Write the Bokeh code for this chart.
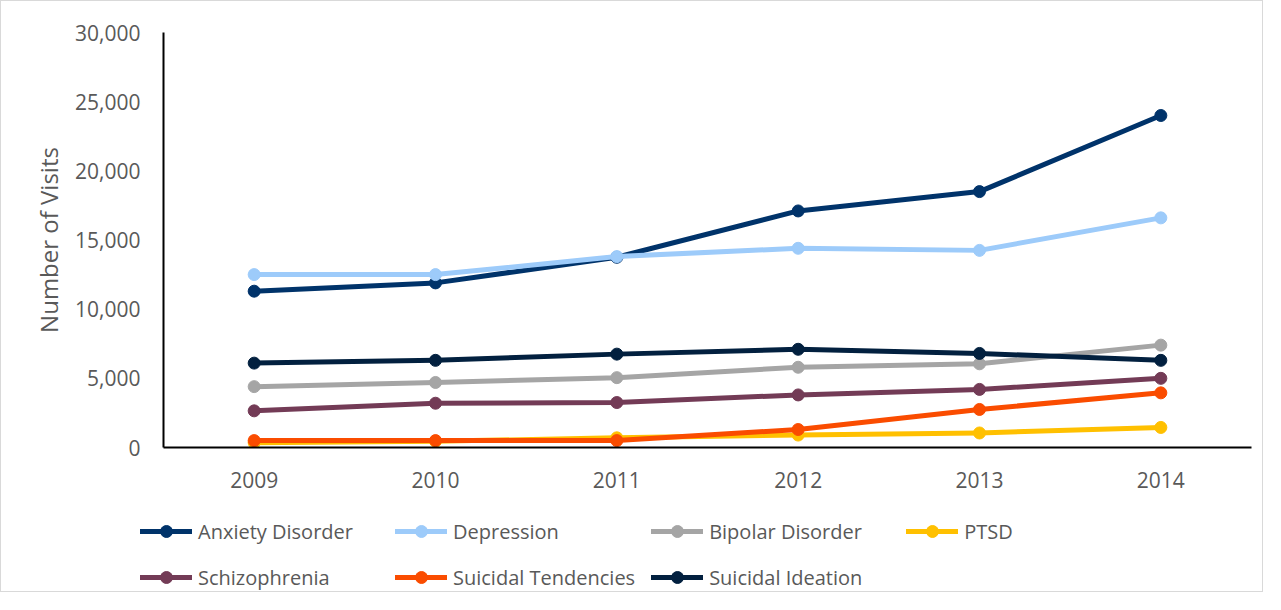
from bokeh.plotting import figure
from bokeh.models import FactorRange, Range1d, NumeralTickFormatter, Legend, LegendItem, FixedTicker
from bokeh.embed import file_html
from bokeh.resources import INLINE

years = ["2009", "2010", "2011", "2012", "2013", "2014"]
anxiety = [11300, 11900, 13750, 17100, 18500, 24000]
depression = [12500, 12500, 13800, 14400, 14250, 16600]
bipolar = [4400, 4700, 5050, 5800, 6050, 7400]
ptsd = [350, 450, 700, 900, 1050, 1450]
schizophrenia = [2650, 3200, 3250, 3800, 4200, 5000]
suicidal_tendencies = [500, 500, 500, 1300, 2750, 3950]
suicidal_ideation = [6100, 6300, 6750, 7100, 6800, 6300]
y_ticks = [0, 5000, 10000, 15000, 20000, 25000, 30000]

series = [
    ("Anxiety Disorder", anxiety, "#00336A"),
    ("Depression", depression, "#9DCBFA"),
    ("Bipolar Disorder", bipolar, "#A5A5A5"),
    ("PTSD", ptsd, "#FFC000"),
    ("Schizophrenia", schizophrenia, "#733B56"),
    ("Suicidal Tendencies", suicidal_tendencies, "#FA4C00"),
    ("Suicidal Ideation", suicidal_ideation, "#02203F"),
]

FONT = "Open Sans"
TXT = "#595959"
W = 1263
BORDER = "1px solid #D9D9D9"

p = figure(
    width=W, height=499,
    x_range=FactorRange(*years, range_padding=0),
    y_range=Range1d(0, 30000),
    output_backend="svg", toolbar_location=None,
    min_border_left=162, min_border_right=13, min_border_top=31, min_border_bottom=53,
)
p.styles = {"border-top": BORDER, "border-left": BORDER, "border-right": BORDER}
p.outline_line_color = None
p.xgrid.grid_line_color = None
p.ygrid.grid_line_color = None

p.yaxis.ticker = FixedTicker(ticks=y_ticks)
p.yaxis.formatter = NumeralTickFormatter(format="0,0")
for ax in (p.xaxis[0], p.yaxis[0]):
    ax.axis_line_color = "#000000"
    ax.axis_line_width = 2
    ax.major_tick_line_color = None
    ax.minor_tick_line_color = None
    ax.major_label_text_font = FONT
    ax.major_label_text_font_size = "21px"
    ax.major_label_text_color = TXT
p.yaxis.major_label_standoff = 17
p.xaxis.major_label_standoff = 18
p.yaxis.axis_label = "Number of Visits"
p.yaxis.axis_label_text_font = FONT
p.yaxis.axis_label_text_font_size = "24px"
p.yaxis.axis_label_text_font_style = "normal"
p.yaxis.axis_label_text_color = TXT
p.yaxis.axis_label_standoff = 7

# legend strip below the chart (its proxy glyphs sit outside its visible range)
lg = figure(
    width=W, height=93,
    x_range=FactorRange(*years), y_range=Range1d(-2, -1),
    x_axis_location=None, y_axis_location=None,
    output_backend="svg", toolbar_location=None,
    min_border=0, min_border_left=0, min_border_right=0, min_border_top=0, min_border_bottom=0,
)
lg.styles = {"border-bottom": BORDER, "border-left": BORDER, "border-right": BORDER}
lg.grid.visible = False
lg.outline_line_color = None

items = []
for name, vals, color in series:
    p.line(years, vals, line_color=color, line_width=5, line_join="round", line_cap="round")
    p.scatter(years, vals, size=12, fill_color=color, line_color=color)
    lr = lg.line(years, vals, line_color=color, line_width=5, line_cap="round")
    sr = lg.scatter(years, vals, size=12, fill_color=color, line_color=color)
    items.append(LegendItem(label=name, renderers=[lr, sr]))

legend = Legend(
    items=items, location=(139, 0), orientation="horizontal", ncols=4,
    glyph_width=52, glyph_height=30, label_standoff=6, label_width=181,
    spacing=16, padding=0, margin=0,
    label_text_font=FONT, label_text_font_size="20px", label_text_color=TXT,
    background_fill_alpha=0, border_line_color=None,
)
lg.add_layout(legend, "center")

open("out.html", "w").write(file_html([p, lg], INLINE))
